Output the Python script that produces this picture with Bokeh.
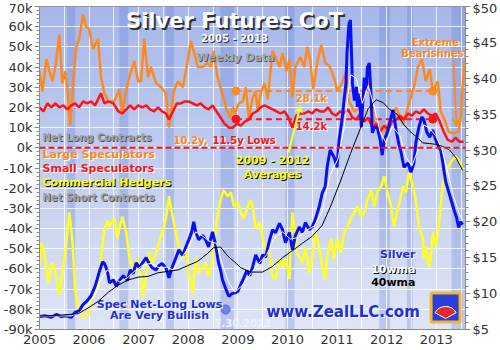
import numpy as np
from bokeh.plotting import figure
from bokeh.models import Range1d, LinearAxis, FixedTicker, Label, Arrow, VeeHead, Span
from bokeh.embed import file_html
from bokeh.resources import INLINE

# ---------------- data ----------------
YEARS = [2005, 2006, 2007, 2008, 2009, 2010, 2011, 2012, 2013]
LEFT_TICKS = list(range(-90, 71, 10))
RIGHT_TICKS = list(range(5, 51, 5))

# Large speculators net position (k contracts)
lg_t = [2005.00, 2005.06, 2005.14, 2005.20, 2005.26, 2005.32, 2005.40, 2005.46, 2005.52, 2005.56, 2005.62, 2005.68, 2005.74, 2005.80, 2005.88, 2005.94,
        2006.00, 2006.08, 2006.14, 2006.18, 2006.24, 2006.31, 2006.39, 2006.51, 2006.61, 2006.67, 2006.73, 2006.81, 2006.91, 2006.99,
        2007.05, 2007.11, 2007.19, 2007.25, 2007.35, 2007.45, 2007.55, 2007.61, 2007.71, 2007.79, 2007.89, 2007.99,
        2008.05, 2008.11, 2008.19, 2008.29, 2008.39, 2008.45, 2008.51, 2008.59, 2008.65, 2008.76, 2008.84, 2008.90, 2008.94,
        2009.02, 2009.10, 2009.16, 2009.22, 2009.30, 2009.36, 2009.40, 2009.46, 2009.54, 2009.60, 2009.70, 2009.76, 2009.84, 2009.90, 2009.98,
        2010.04, 2010.10, 2010.16, 2010.26, 2010.34, 2010.40, 2010.46, 2010.52, 2010.60, 2010.68, 2010.76, 2010.86, 2010.96,
        2011.00, 2011.10, 2011.18, 2011.24, 2011.35, 2011.49, 2011.61, 2011.69, 2011.75, 2011.85, 2011.95,
        2012.03, 2012.09, 2012.19, 2012.33, 2012.45, 2012.55, 2012.63, 2012.71, 2012.79, 2012.87, 2012.93,
        2013.03, 2013.09, 2013.15, 2013.25, 2013.35, 2013.45, 2013.49, 2013.53, 2013.57]
lg_k = [38, 28, 44, 38, 33, 40, 56, 32, 38, 30, 11, 33, 50, 54, 66, 60,
        59, 49, 52, 54, 35, 27, 23, 23, 29, 17, 26, 35, 43, 33,
        33, 54, 35, 40, 32, 30, 27, 10, 28, 33, 30, 43,
        53, 48, 40, 40, 42, 40, 48, 35, 30, 20, 15, 20, 17,
        22, 23, 30, 15, 25, 28, 18, 27, 32, 24, 48, 45, 40, 47, 38,
        44, 25, 40, 45, 40, 50, 43, 29, 42, 51, 42, 40, 33,
        28, 32, 38, 23, 18, 20, 33, 28, 13, 11, 8,
        12, 14, 20, 12, 22, 30, 40, 44, 33, 39, 28,
        33, 18, 15, 8, 7, 8, 14, 30, 43]

# Small speculators net position (k contracts)
sm_t = [2005.00, 2005.08, 2005.16, 2005.24, 2005.32, 2005.40, 2005.48, 2005.56, 2005.64, 2005.72, 2005.80, 2005.88, 2005.96,
        2006.04, 2006.12, 2006.20, 2006.24, 2006.31, 2006.39, 2006.49, 2006.59, 2006.67, 2006.75, 2006.83, 2006.91, 2006.99,
        2007.07, 2007.15, 2007.23, 2007.31, 2007.39, 2007.47, 2007.55, 2007.61, 2007.69, 2007.77, 2007.85, 2007.93,
        2008.01, 2008.09, 2008.17, 2008.25, 2008.33, 2008.41, 2008.49, 2008.57, 2008.65, 2008.73, 2008.82, 2008.90, 2008.98,
        2009.06, 2009.14, 2009.22, 2009.30, 2009.38, 2009.46, 2009.54, 2009.62, 2009.70, 2009.78, 2009.86, 2009.94,
        2010.02, 2010.10, 2010.18, 2010.26, 2010.34, 2010.42, 2010.50, 2010.58, 2010.66, 2010.74, 2010.82, 2010.90, 2010.98,
        2011.06, 2011.14, 2011.22, 2011.31, 2011.39, 2011.47, 2011.55, 2011.63, 2011.71, 2011.79, 2011.87, 2011.95,
        2012.03, 2012.11, 2012.19, 2012.27, 2012.35, 2012.43, 2012.51, 2012.59, 2012.67, 2012.75, 2012.83, 2012.91, 2012.99,
        2013.07, 2013.15, 2013.23, 2013.31, 2013.39, 2013.47, 2013.55]
sm_k = [20, 18, 22, 20, 22, 20, 21, 19, 21, 22, 20, 23, 22,
        23, 21, 25, 27, 22, 23, 22, 18, 17, 19, 21, 19, 21,
        20, 21, 19, 18, 20, 18, 17, 14, 18, 22, 22, 23,
        23, 22, 21, 22, 20, 19, 21, 18, 15, 12, 10, 10, 12,
        11, 13, 14, 17, 18, 20, 21, 20, 19, 18, 17, 18,
        15, 10, 16, 17, 17, 18, 17, 19, 18, 18, 20, 17, 16,
        18, 17, 19, 15, 14, 17, 13, 15, 10, 12, 8, 11,
        9, 13, 14, 16, 14, 17, 16, 18, 17, 19, 17, 16, 17,
        13, 8, 4, 3, 5, 3, 3]

# Commercial hedgers net position (k contracts)
cm_t = [2005.00, 2005.04, 2005.10, 2005.18, 2005.24, 2005.30, 2005.40, 2005.48, 2005.54, 2005.60, 2005.66, 2005.72, 2005.78, 2005.88, 2005.98,
        2006.04, 2006.12, 2006.18, 2006.24, 2006.31, 2006.37, 2006.41, 2006.51, 2006.57, 2006.61, 2006.67, 2006.75, 2006.81, 2006.91, 2006.97,
        2007.05, 2007.09, 2007.15, 2007.21, 2007.27, 2007.35, 2007.41, 2007.47, 2007.55, 2007.61, 2007.67, 2007.75, 2007.81, 2007.89, 2007.95,
        2008.01, 2008.09, 2008.15, 2008.21, 2008.29, 2008.35, 2008.41, 2008.49, 2008.53, 2008.59, 2008.65, 2008.71, 2008.80, 2008.86, 2008.92,
        2009.00, 2009.06, 2009.12, 2009.20, 2009.26, 2009.30, 2009.36, 2009.44, 2009.54, 2009.64, 2009.70, 2009.76, 2009.84, 2009.90, 2009.96,
        2010.04, 2010.10, 2010.20, 2010.30, 2010.36, 2010.44, 2010.50, 2010.56, 2010.64, 2010.70, 2010.76, 2010.80, 2010.88, 2010.94,
        2011.00, 2011.08, 2011.14, 2011.20, 2011.29, 2011.35, 2011.41, 2011.49, 2011.55, 2011.61, 2011.69, 2011.75, 2011.81, 2011.89, 2011.95,
        2012.01, 2012.09, 2012.15, 2012.21, 2012.27, 2012.33, 2012.39, 2012.45, 2012.53, 2012.59, 2012.65, 2012.73, 2012.75, 2012.79, 2012.85, 2012.89, 2012.93, 2012.99,
        2013.05, 2013.13, 2013.19, 2013.25, 2013.33, 2013.39, 2013.45, 2013.53]
cm_k = [-59, -47, -52, -67, -57, -59, -73, -59, -48, -32, -45, -70, -81, -84, -83,
        -76, -72, -68, -55, -40, -36, -39, -35, -45, -40, -34, -42, -54, -62, -55,
        -64, -74, -63, -52, -57, -52, -47, -42, -35, -24, -32, -42, -49, -55, -49,
        -62, -72, -55, -62, -59, -57, -64, -55, -45, -34, -26, -21, -24, -22, -29,
        -27, -32, -35, -29, -26, -29, -40, -37, -49, -52, -64, -65, -55, -59, -55,
        -65, -32, -52, -57, -49, -62, -55, -42, -49, -59, -65, -54, -45, -55,
        -45, -52, -42, -40, -34, -32, -29, -34, -32, -26, -21, -29, -22, -19, -14,
        -21, -29, -39, -32, -26, -19, -22, -12, -19, -26, -39, -45, -55, -49, -59, -55, -42, -49,
        -39, -19, -12, -9, -6, -4, -6, -11]

# Silver price (US$)
ag_t = [2005.00, 2005.12, 2005.24, 2005.34, 2005.44, 2005.54, 2005.64, 2005.72, 2005.80, 2005.88, 2005.96,
        2006.04, 2006.12, 2006.16, 2006.20, 2006.27, 2006.31, 2006.37, 2006.41, 2006.49, 2006.55, 2006.61, 2006.69, 2006.77, 2006.83, 2006.89, 2006.95,
        2007.01, 2007.07, 2007.15, 2007.21, 2007.27, 2007.35, 2007.41, 2007.47, 2007.55, 2007.61, 2007.67, 2007.75, 2007.81, 2007.89, 2007.95,
        2008.01, 2008.07, 2008.11, 2008.15, 2008.21, 2008.29, 2008.35, 2008.41, 2008.49, 2008.55, 2008.61, 2008.65, 2008.69, 2008.76, 2008.82, 2008.88, 2008.94,
        2009.00, 2009.06, 2009.12, 2009.18, 2009.24, 2009.30, 2009.36, 2009.44, 2009.50, 2009.56, 2009.64, 2009.70, 2009.76, 2009.84, 2009.90, 2009.96,
        2010.04, 2010.10, 2010.16, 2010.24, 2010.30, 2010.36, 2010.44, 2010.50, 2010.56, 2010.64, 2010.70, 2010.76, 2010.80, 2010.86, 2010.94,
        2011.00, 2011.04, 2011.10, 2011.14, 2011.18, 2011.20, 2011.24, 2011.27, 2011.31, 2011.35, 2011.39, 2011.41, 2011.45, 2011.49, 2011.51,
        2011.55, 2011.59, 2011.61, 2011.65, 2011.69, 2011.71, 2011.75, 2011.81, 2011.87, 2011.91, 2011.95,
        2012.01, 2012.09, 2012.13, 2012.19, 2012.25, 2012.29, 2012.35, 2012.43, 2012.49, 2012.55, 2012.59, 2012.65, 2012.71, 2012.75, 2012.81, 2012.87, 2012.93, 2012.99,
        2013.05, 2013.09, 2013.13, 2013.19, 2013.25, 2013.31, 2013.37, 2013.41, 2013.45, 2013.49, 2013.53]
ag_p = [6.8, 6.9, 6.7, 7.1, 6.8, 6.9, 6.7, 7.4, 7.6, 8.5, 9.0,
        9.7, 11.0, 11.9, 12.9, 14.4, 14.2, 13.1, 11.5, 11.9, 11.0, 11.8, 12.5, 11.8, 13.3, 12.8, 14.3,
        13.6, 14.2, 15.0, 14.2, 13.6, 13.3, 13.9, 14.2, 13.6, 12.2, 13.6, 15.0, 16.1, 15.3, 16.5,
        17.5, 18.6, 20.0, 18.6, 17.5, 18.1, 17.5, 16.5, 18.6, 16.8, 14.3, 13.3, 11.9, 10.6, 9.6, 10.0, 10.1,
        10.3, 11.3, 12.2, 13.2, 12.5, 13.8, 15.4, 14.2, 15.4, 15.1, 17.5, 18.9, 18.5, 19.8, 18.9, 17.1,
        18.5, 16.1, 18.1, 19.3, 18.5, 19.9, 18.9, 19.3, 20.3, 22.1, 24.0, 24.9, 27.6, 30.0, 29.0,
        27.6, 31.4, 34.2, 36.9, 39.3, 43.5, 47.6, 48.1, 39.3, 36.9, 38.8, 36.0, 37.9, 33.2, 35.6,
        40.1, 38.3, 41.5, 42.1, 36.9, 32.4, 33.1, 33.2, 31.4, 29.3, 31.4,
        32.4, 34.6, 35.6, 32.8, 30.7, 29.7, 27.6, 28.2, 26.9, 28.2, 31.1, 33.2, 34.6, 34.2, 32.5, 31.8, 32.8, 31.4,
        30.4, 30.0, 28.3, 25.6, 24.2, 22.8, 21.4, 20.6, 19.2, 20.0, 19.6]

# 10-week and 40-week moving averages of silver (US$)
ma10_t = [2005.00, 2005.24, 2005.44, 2005.64, 2005.80, 2005.96, 2006.12, 2006.24, 2006.37, 2006.49, 2006.61, 2006.77, 2006.93,
          2007.09, 2007.25, 2007.41, 2007.57, 2007.69, 2007.85, 2008.01, 2008.15, 2008.29, 2008.45, 2008.57, 2008.69, 2008.82, 2008.94,
          2009.10, 2009.26, 2009.42, 2009.58, 2009.74, 2009.90, 2010.06, 2010.22, 2010.38, 2010.54, 2010.70, 2010.86,
          2011.02, 2011.14, 2011.27, 2011.39, 2011.51, 2011.63, 2011.75, 2011.87, 2011.99,
          2012.11, 2012.27, 2012.39, 2012.51, 2012.63, 2012.75, 2012.87, 2012.99, 2013.11, 2013.23, 2013.35, 2013.47, 2013.53]
ma10_p = [6.9, 6.9, 6.9, 6.9, 7.3, 8.3, 9.8, 12.0, 13.3, 12.5, 11.6, 12.2, 13.2,
          14.0, 14.2, 13.6, 13.7, 13.3, 14.8, 16.5, 18.6, 18.0, 17.2, 17.0, 14.0, 11.5, 10.2,
          11.2, 12.8, 14.2, 15.4, 17.8, 18.6, 17.6, 17.8, 18.8, 19.4, 21.5, 26.5,
          28.8, 33.0, 40.5, 40.0, 36.5, 39.0, 36.0, 32.5, 31.0,
          33.3, 32.0, 29.0, 27.8, 30.0, 33.5, 33.0, 32.0, 30.2, 27.0, 23.5, 21.0, 20.3]
ma40_t = [2005.00, 2005.44, 2005.78, 2005.98, 2006.18, 2006.39, 2006.59, 2006.79, 2006.99, 2007.19, 2007.39, 2007.59, 2007.79, 2007.99,
          2008.19, 2008.39, 2008.51, 2008.65, 2008.80, 2008.92, 2009.06, 2009.26, 2009.50, 2009.70, 2009.90,
          2010.10, 2010.30, 2010.50, 2010.70, 2010.86, 2011.06, 2011.27, 2011.47, 2011.63, 2011.79, 2011.93,
          2012.07, 2012.21, 2012.35, 2012.47, 2012.61, 2012.73, 2012.87, 2012.99, 2013.13, 2013.27, 2013.41, 2013.53]
ma40_p = [6.9, 7.0, 7.2, 8.0, 8.9, 10.2, 11.2, 11.9, 12.3, 12.4, 12.9, 13.1, 13.3, 13.9,
          14.5, 15.6, 16.4, 16.5, 15.2, 14.5, 13.6, 13.0, 13.0, 13.8, 15.0,
          16.0, 17.0, 18.0, 19.5, 22.0, 25.5, 29.5, 33.0, 35.8, 37.0, 36.6,
          35.6, 35.0, 33.5, 32.6, 31.8, 31.0, 30.9, 30.8, 30.5, 30.0, 28.8, 27.2]

# 2009-2012 averages
avg_span = [2008.96, 2012.93]
lg_avg = 28.1
sm_avg = 14.2

# spec net-long low periods (shaded bands)
band_start = [2005.56, 2006.61, 2007.55, 2008.65, 2009.96, 2011.85, 2012.41, 2013.31]
band_end = [2005.72, 2006.79, 2007.71, 2008.92, 2010.14, 2012.07, 2012.53, 2013.59]

# ---------------- styling ----------------
FONT = "DejaVu Sans"
ORANGE = "#ff8a1c"
RED = "#ff1414"
YELLOW = "#ffff22"
BLUE = "#0a10f5"
LBLUE = "#1f2fd8"
AXC = "#8a8a8a"

X0, X1 = 2005.0, 2013.59
FL, FR, FT, FB = 38, 466, 6, 329

p = figure(width=500, height=350, output_backend="svg", toolbar_location=None,
           x_range=Range1d(X0, X1), y_range=Range1d(-90, 70),
           min_border_left=FL, min_border_right=500 - FR, min_border_top=FT,
           min_border_bottom=350 - FB)
p.extra_y_ranges = {"price": Range1d(5, 50)}
p.border_fill_color = "white"
p.background_fill_color = "#c3cdef"
p.outline_line_color = AXC

# gradient background
n = 160
top = np.array([166, 183, 235], dtype=float)
bot = np.array([224, 230, 247], dtype=float)
img = np.empty((n, 1), dtype=np.uint32)
view = img.view(dtype=np.uint8).reshape((n, 1, 4))
for i in range(n):
    f = i / (n - 1)
    c = bot + (top - bot) * f
    view[i, 0, 0:3] = c.astype(np.uint8)
    view[i, 0, 3] = 255
bg = p.image_rgba(image=[img], x=X0, y=-90, dw=X1 - X0, dh=160, level="image")

p.quad(left=band_start, right=band_end, bottom=-90, top=70, fill_color="#5470d2",
       fill_alpha=0.25, line_color=None, level="image")

# grid
p.xgrid.ticker = FixedTicker(ticks=[y + h for y in YEARS for h in (0.0, 0.5)])
p.ygrid.ticker = FixedTicker(ticks=LEFT_TICKS)
for g in (p.xgrid, p.ygrid):
    g.grid_line_color = "white"
    g.grid_line_alpha = 0.8
    g.grid_line_width = 1

# axes
la = p.yaxis[0]
la.ticker = FixedTicker(ticks=LEFT_TICKS, minor_ticks=list(range(-90, 71, 2)))
la.major_label_overrides = {t: f"{t}k" for t in LEFT_TICKS}
ba = p.xaxis[0]
ba.ticker = FixedTicker(ticks=YEARS, minor_ticks=[])
ba.major_label_overrides = {y: str(y) for y in YEARS}
ra = LinearAxis(y_range_name="price",
                ticker=FixedTicker(ticks=RIGHT_TICKS, minor_ticks=list(range(5, 51))))
ra.major_label_overrides = {t: f"${t}" for t in RIGHT_TICKS}
p.add_layout(ra, "right")

for ax in (la, ra, ba):
    ax.axis_line_color = AXC
    ax.major_tick_line_color = AXC
    ax.minor_tick_line_color = AXC
    ax.major_tick_in = 0
    ax.minor_tick_in = 0
    ax.major_tick_out = 5
    ax.minor_tick_out = 3
    ax.major_label_text_font = FONT
    ax.major_label_text_font_size = "13px"
    ax.major_label_text_color = "#333333"
    ax.major_label_standoff = 2
ba.major_tick_out = 0
ba.minor_tick_out = 0
ba.major_label_standoff = 5

# series
p.line(cm_t, cm_k, line_color=YELLOW, line_width=2.5)
p.line(lg_t, lg_k, line_color=ORANGE, line_width=2.5)
p.line(sm_t, sm_k, line_color=RED, line_width=2.5)

p.line(avg_span, [lg_avg, lg_avg], line_color=ORANGE, line_width=2, line_dash="6 4")
p.line(avg_span, [sm_avg, sm_avg], line_color=RED, line_width=2, line_dash="6 4")
p.scatter(avg_span, [lg_avg, lg_avg], size=8, fill_color=ORANGE, line_color=ORANGE)
p.scatter(avg_span, [sm_avg, sm_avg], size=8, fill_color=RED, line_color=RED)

p.line(ag_t, ag_p, line_color=BLUE, line_width=3, y_range_name="price")
p.line(ma10_t, ma10_p, line_color="white", line_width=1, y_range_name="price")
p.line(ma40_t, ma40_p, line_color="black", line_width=1, y_range_name="price")

p.add_layout(Span(location=0, dimension="width", line_color=RED, line_width=2,
                  line_dash="6 3"))


# ---------------- annotations ----------------
def X(px):
    return X0 + (px - FL) / (FR - FL) * (X1 - X0)


def Y(py):
    return 70 - (py - FT) / (FB - FT) * 160


def txt(px, py, s, color, size=11, align="left", shadow=None, off=1):
    if shadow:
        p.add_layout(Label(x=px - FL + off, y=FB - py - off, x_units="screen", y_units="screen",
                           text=s, text_color=shadow, text_font=FONT,
                           text_font_size=f"{size}px", text_font_style="bold",
                           text_align=align, text_baseline="middle"))
    p.add_layout(Label(x=px - FL, y=FB - py, x_units="screen", y_units="screen",
                       text=s, text_color=color, text_font=FONT,
                       text_font_size=f"{size}px", text_font_style="bold",
                       text_align=align, text_baseline="middle"))


txt(233, 20, "Silver Futures CoT", "white", 21, "center", "#333333", 2)
txt(233, 38, "2005 - 2013", "white", 10, "center", "#333333", 1)
txt(234, 57, "Weekly Data", "#a9a9a9", 11, "center", "#555555", 1)
txt(434, 42, "Extreme", ORANGE, 10, "center", "white", 1)
txt(434, 53, "Bearishness", ORANGE, 10, "center", "white", 1)
txt(310, 98, "28.1k", ORANGE, 10, "center", "white", 1)
txt(310, 126, "14.2k", RED, 10, "center", "white", 1)
txt(172, 140, "10.2y,", ORANGE, 10, "left", "white", 1)
txt(211, 140, "11.5y Lows", RED, 10, "left", "white", 1)
txt(271, 160, "2009 - 2012", YELLOW, 11, "center", "black", 1)
txt(271, 174, "Averages", YELLOW, 11, "center", "black", 1)
txt(41, 137, "Net Long Contracts", "#a3a3a3", 10, "left", "#555555", 1)
txt(41, 197, "Net Short Contracts", "#a3a3a3", 10, "left", "#555555", 1)
txt(41, 154, "Large Speculators", ORANGE, 11, "left", "white", 1)
txt(41, 168, "Small Speculators", RED, 11, "left", "white", 1)
txt(41, 182, "Commercial Hedgers", YELLOW, 11, "left", "black", 1)
txt(414, 254, "Silver", LBLUE, 11, "right", "white", 1)
txt(414, 269, "10wma", "white", 11, "right", "black", 1)
txt(414, 282, "40wma", "black", 11, "right", "#dddddd", 1)
txt(158, 304, "Spec Net-Long Lows", LBLUE, 11, "center", "white", 1)
txt(158, 315, "Are Very Bullish", LBLUE, 11, "center", "white", 1)
txt(213, 322, "7.30.2013", "#eef1fb", 10, "left")
txt(265, 311, "www.ZealLLC.com", LBLUE, 15, "left", "white", 1)

# arrows
p.add_layout(Arrow(end=VeeHead(size=7, line_color=YELLOW, fill_color=YELLOW),
                   x_start=287 - FL, y_start=FB - 152, x_end=299 - FL, y_end=FB - 105,
                   start_units="screen", end_units="screen",
                   line_color=YELLOW, line_width=2))
p.add_layout(Arrow(end=VeeHead(size=8, line_color=ORANGE, fill_color=ORANGE),
                   x_start=452 - FL, y_start=FB - 60, x_end=455 - FL, y_end=FB - 126,
                   start_units="screen", end_units="screen",
                   line_color=ORANGE, line_width=2))

# pointer dot for the net-long lows caption
p.line([X(213), X(224)], [Y(306), Y(309)], line_color=LBLUE, line_width=1)
p.scatter([X(225)], [Y(309)], size=9, fill_color="#6f80ef", line_color="#5566dd")

# logo
p.rect(x=[X(446)], y=[Y(307)], width=29, height=29, width_units="screen", height_units="screen",
       fill_color="#2b3fd6", line_color="#f2b632", line_width=3)
p.wedge(x=[X(446)], y=[Y(318)], radius=12, radius_units="screen",
        start_angle=0.5, end_angle=2.64, fill_color="#e8252a", line_color="white", line_width=1)

open("out.html", "w").write(file_html(p, INLINE))
